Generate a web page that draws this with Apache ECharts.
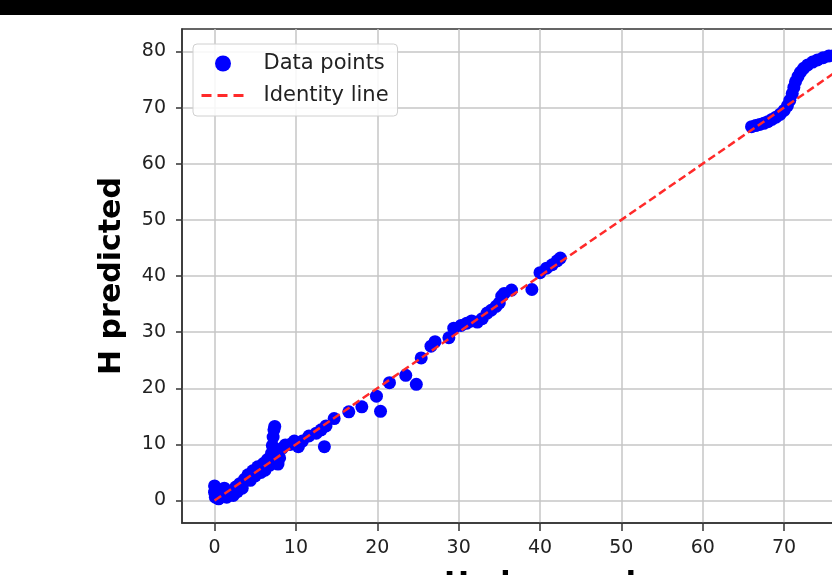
<!DOCTYPE html>
<html>
<head>
<meta charset="utf-8">
<script src="https://cdn.jsdelivr.net/npm/echarts@6/dist/echarts.min.js"></script>
<style>
html,body{margin:0;padding:0;background:#fff;}
#chart{width:832px;height:575px;}
</style>
</head>
<body>
<div id="chart"></div>
<script>
const hObserved = [
  0.0, 0.0, 0.1, 0.5, 0.9, 1.2, 1.5, 1.9, 2.3, 2.6, 2.8, 3.1, 3.4,
  3.7, 4.1, 4.4, 4.7, 5.0, 5.3, 5.7, 6.0, 6.2, 6.5, 6.8, 7.0,
  7.1, 7.2, 7.3, 7.4, 7.6, 7.8, 8.0, 8.3, 8.7, 9.3, 9.8, 10.3, 10.8, 11.6, 12.5, 13.1, 13.5, 13.7,
  14.7, 16.5, 18.1, 19.9, 20.4, 21.5, 23.5, 24.8, 25.4, 26.6, 27.1, 28.8, 29.4, 30.3, 31.0, 31.6,
  32.3, 32.9, 33.5, 34.0, 34.6, 35.0, 35.3, 35.6, 36.5, 39.0, 40.0, 40.8, 41.5, 42.1, 42.5,
  66.0, 66.5, 67.0, 67.5, 68.0, 68.5, 69.0, 69.5, 70.0, 70.4, 70.7, 71.0, 71.2, 71.4, 71.7,
  72.0, 72.4, 72.9, 73.5, 74.1, 74.8, 75.5, 76.3, 77.2, 78.2, 79.2, 80.0
];
const hPredicted = [
  2.6, 1.5, 0.6, 0.3, 0.8, 2.2, 0.6, 1.4, 0.9, 2.4, 1.6, 3.0, 2.2,
  3.8, 4.6, 3.6, 5.3, 4.4, 6.0, 5.0, 6.6, 5.4, 7.3, 6.3, 8.4,
  9.8, 11.3, 12.6, 13.2, 8.8, 6.5, 7.6, 9.3, 9.9, 10.0, 10.6, 9.6, 10.6, 11.5, 12.0, 12.6, 9.6, 13.3,
  14.6, 15.8, 16.7, 18.6, 15.9, 21.0, 22.3, 20.7, 25.4, 27.5, 28.3, 29.0, 30.7, 31.2, 31.6, 32.0,
  31.8, 32.4, 33.4, 33.9, 34.6, 35.2, 36.4, 36.9, 37.5, 37.6, 40.6, 41.4, 42.0, 42.7, 43.2,
  66.6, 66.8, 67.0, 67.2, 67.5, 67.9, 68.3, 68.8, 69.5, 70.3, 71.3, 72.5, 73.6, 74.6, 75.5,
  76.3, 77.0, 77.6, 78.1, 78.5, 78.9, 79.2, 79.4, 79.6, 79.8, 80.0, 80.1
];
// Identity line end points
const identityX = [0, 80];
const identityY = [0, 80];
// Tick labels
const xTicks = [0, 10, 20, 30, 40, 50, 60, 70, 80];
const yTicks = [0, 10, 20, 30, 40, 50, 60, 70, 80];

const scatterData = hObserved.map((x, i) => [x, hPredicted[i]]);
const lineData = identityX.map((x, i) => [x, identityY[i]]);

const chart = echarts.init(document.getElementById('chart'), null, {renderer: 'canvas'});
const font = 'DejaVu Sans';
chart.setOption({
  animation: false,
  backgroundColor: '#fff',
  graphic: [{
    type: 'rect', left: 0, top: 0, z: 100,
    shape: {width: 832, height: 15},
    style: {fill: '#000'}
  }],
  grid: {
    left: 182, top: 29, right: -66, bottom: 52,
    outerBoundsMode: 'none', containLabel: false,
    show: true, borderColor: '#333', borderWidth: 1.5, backgroundColor: '#fff'
  },
  legend: {
    orient: 'vertical', left: 193, top: 44,
    padding: [9, 9, 10, 7], itemGap: 11,
    itemWidth: 43, itemHeight: 16,
    backgroundColor: 'rgba(255,255,255,0.85)',
    borderColor: '#d0d0d0', borderWidth: 1, borderRadius: 4,
    textStyle: {fontFamily: font, fontSize: 21, color: '#222', padding: [0, 0, 0, 14]},
    data: [
      {name: 'Data points', icon: 'circle'},
      {name: 'Identity line', itemStyle: {opacity: 0}, lineStyle: {width: 3, type: [10, 6]}}
    ]
  },
  xAxis: {
    type: 'value', min: -4, max: 84,
    name: 'H observed', nameLocation: 'middle', nameGap: 47,
    nameTextStyle: {fontFamily: font, fontSize: 30, fontWeight: 'bold', color: '#000'},
    axisLine: {show: true, onZero: false, lineStyle: {color: '#333', width: 1.5}},
    axisTick: {show: true, length: 8, lineStyle: {color: '#333', width: 1.5}, customValues: xTicks},
    axisLabel: {fontFamily: font, fontSize: 19, color: '#222', margin: 16, customValues: xTicks},
    splitLine: {show: true, lineStyle: {color: '#c6c6c6', width: 1.5}}
  },
  yAxis: {
    type: 'value', min: -4, max: 84,
    name: 'H predicted', nameLocation: 'middle', nameGap: 55, nameRotate: 90,
    nameTextStyle: {fontFamily: font, fontSize: 30, fontWeight: 'bold', color: '#000'},
    axisLine: {show: true, onZero: false, lineStyle: {color: '#333', width: 1.5}},
    axisTick: {show: true, length: 6, lineStyle: {color: '#333', width: 1.5}, customValues: yTicks},
    axisLabel: {fontFamily: font, fontSize: 19, color: '#222', margin: 16, customValues: yTicks},
    splitLine: {show: true, lineStyle: {color: '#c6c6c6', width: 1.5}}
  },
  series: [{
    name: 'Data points', type: 'scatter',
    data: scatterData, symbol: 'circle', symbolSize: 13,
    itemStyle: {color: '#0000ff', opacity: 1}
  }, {
    name: 'Identity line', type: 'line',
    data: lineData, showSymbol: false,
    lineStyle: {color: '#ff2a2a', width: 2.5, type: [8, 4]},
    itemStyle: {color: '#ff2a2a'},
    z: 5
  }]
});
</script>
</body>
</html>
